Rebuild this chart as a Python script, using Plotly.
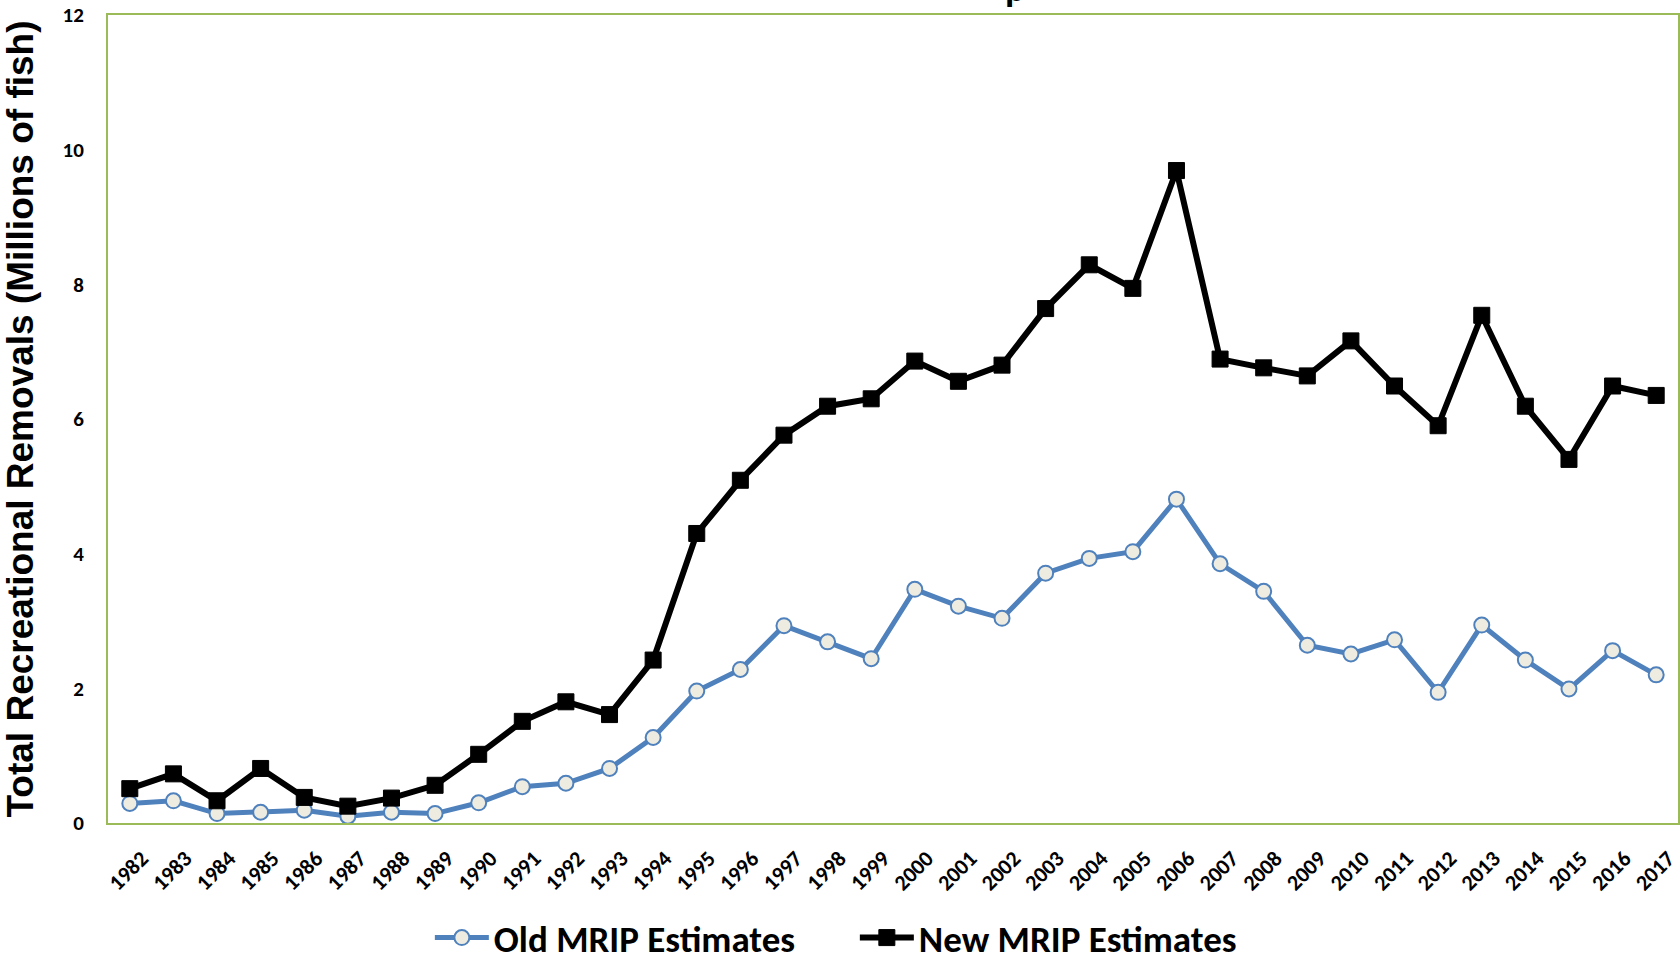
import plotly.graph_objects as go

years = [str(y) for y in range(1982, 2018)]
old_mrip = [0.29, 0.33, 0.14, 0.16, 0.19, 0.10, 0.16, 0.14, 0.30, 0.54, 0.59, 0.81,
            1.27, 1.96, 2.28, 2.93, 2.69, 2.44, 3.47, 3.22, 3.04, 3.71, 3.93, 4.03,
            4.81, 3.85, 3.44, 2.64, 2.51, 2.72, 1.94, 2.94, 2.42, 1.99, 2.56, 2.20]
new_mrip = [0.51, 0.73, 0.33, 0.81, 0.38, 0.25, 0.37, 0.56, 1.02, 1.51, 1.80, 1.61,
            2.42, 4.30, 5.09, 5.76, 6.19, 6.30, 6.86, 6.56, 6.80, 7.64, 8.29, 7.94,
            9.69, 6.89, 6.76, 6.64, 7.16, 6.49, 5.90, 7.54, 6.19, 5.40, 6.49, 6.35]
y_ticks = [0, 2, 4, 6, 8, 10, 12]

FONT = "Carlito, Calibri, Lato, sans-serif"
n = len(years)

fig = go.Figure()
fig.add_trace(go.Scatter(
    x=years, y=old_mrip, name="Old MRIP Estimates", mode="lines+markers",
    line=dict(color="#4F81BD", width=5),
    marker=dict(symbol="circle", size=15, color="#EEECE1",
                line=dict(color="#4F81BD", width=2)),
))
fig.add_trace(go.Scatter(
    x=years, y=new_mrip, name="New MRIP Estimates", mode="lines+markers",
    line=dict(color="#000000", width=6),
    marker=dict(symbol="square", size=16, color="#000000",
                line=dict(color="#000000", width=1)),
))

fig.update_layout(
    width=1680, height=954,
    margin=dict(l=108, r=2, t=15, b=131, autoexpand=False),
    paper_bgcolor="white", plot_bgcolor="white",
    font=dict(family=FONT, color="black"),
    showlegend=True,
    legend=dict(orientation="h", x=0.205, xanchor="left", y=-0.104, yanchor="top",
                font=dict(family=FONT, size=37, color="black", weight="bold"),
                itemwidth=54, entrywidth=356, entrywidthmode="pixels",
                bgcolor="rgba(0,0,0,0)"),
    xaxis=dict(type="category", range=[-0.5, n - 0.5], showgrid=False, zeroline=False,
               automargin=False,
               showline=True, linecolor="#9BBB59", linewidth=2, mirror=True,
               ticks="", tickangle=-45, ticklabelstandoff=12, ticklabelshift=12,
               tickfont=dict(family=FONT, size=22, color="black", weight="bold")),
    yaxis=dict(range=[0, 12], tickvals=y_ticks, showgrid=False, zeroline=False,
               automargin=False,
               showline=True, linecolor="#9BBB59", linewidth=2, mirror=True,
               ticks="", ticklabelstandoff=18,
               tickfont=dict(family=FONT, size=21, color="black", weight="bold"),
               title=dict(text="Total Recreational Removals (Millions of fish)",
                          font=dict(family="Liberation Sans, Arial, sans-serif",
                                    size=37, color="black", weight="bold"),
                          standoff=24)),
)

fig.add_annotation(text="p", xref="paper", yref="paper", x=0.578, y=1.002,
                   xanchor="center", yanchor="bottom", showarrow=False,
                   font=dict(family=FONT, size=38, color="black", weight="bold"))

fig.write_html("out.html", config={"displayModeBar": False},
               post_script="document.body.style.margin='0';document.body.style.overflow='hidden';")
